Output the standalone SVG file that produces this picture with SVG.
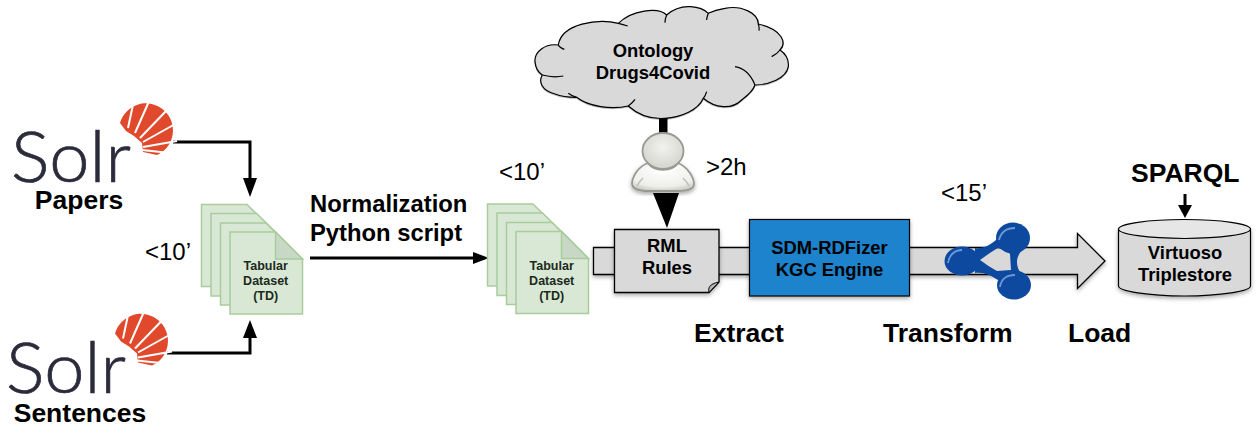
<svg xmlns="http://www.w3.org/2000/svg" xmlns:xlink="http://www.w3.org/1999/xlink" width="1260" height="430" viewBox="0 0 1260 430">
<style>
text{font-family:"Liberation Sans",Arial,sans-serif;fill:#000}
.big{font-size:26.500px;font-weight:700}
.norm{font-size:23.800px;font-weight:700}
.time{font-size:24px}
.doc{font-size:12.500px;font-weight:700;fill:#1c2a1c;text-anchor:middle}
.mid{font-size:18.400px;font-weight:700;text-anchor:middle}
.page{fill:#d9e8d5;stroke:#a9cc9c;stroke-width:1.500}
.fold{fill:#c9d8c6;stroke:#a9cc9c;stroke-width:1.500}
.conn{fill:none;stroke:#000;stroke-width:3}
.solr{font-family:Lato,"Liberation Sans",sans-serif;font-weight:300;font-size:70px;fill:#2b2b3b;stroke:#2b2b3b;stroke-width:0.700}
.ray{stroke:#fff;stroke-width:2}
.node{fill:#0d4a9f}
.hl{fill:none;stroke:#6f9ad8;stroke-width:1.800}
</style>
<defs>
<filter id="sh" x="-10%" y="-10%" width="125%" height="125%"><feDropShadow dx="0" dy="2" stdDeviation="2" flood-color="#000" flood-opacity="0.35"/></filter>
<radialGradient id="body" cx="50%" cy="25%" r="80%"><stop offset="0" stop-color="#ffffff"/><stop offset="0.75" stop-color="#eeeeea"/><stop offset="1" stop-color="#c4c4be"/></radialGradient>
<radialGradient id="head" cx="50%" cy="40%" r="70%"><stop offset="0" stop-color="#f2f2ee"/><stop offset="1" stop-color="#cfcfca"/></radialGradient>
<g id="sun">
<path fill="#e0492b" d="M120 123A27 27 0 1 1 157 155L143 152L142 143L134 136L126 131Z"/>
<g class="ray">
<line x1="128" y1="128" x2="134" y2="100"/>
<line x1="135" y1="133" x2="150" y2="99"/>
<line x1="140" y1="138" x2="167" y2="110"/>
<line x1="143" y1="142" x2="177" y2="123"/>
<line x1="143" y1="147" x2="177" y2="141"/>
<line x1="142" y1="150" x2="170" y2="153"/>
</g>
</g>
<g id="stack">
<path class="page" d="M201.500 204.500H247L274 231V286.500H201.500Z"/>
<path class="page" d="M211 213.500H256.500L283.500 240V296H211Z"/>
<path class="page" d="M220.500 223H266L293 250V305H220.500Z"/>
<path class="page" d="M230 232H275.500L302.500 259V314H230Z"/>
<path class="fold" d="M275.500 232V259H302.500Z"/>
<text class="doc" x="265.700" y="270">Tabular</text>
<text class="doc" x="265.700" y="285">Dataset</text>
<text class="doc" x="265.700" y="300">(TD)</text>
</g>
</defs>

<g id="etl-arrow">
<path fill="#d9d9d9" stroke="#000" stroke-width="1.300" filter="url(#sh)" d="M593.500 247.500H1077.500V233.500L1105 261L1077.500 288.500V274.500H593.500Z"/>
</g>

<g id="connectors">
<path class="conn" d="M173 142H250V180"/>
<path d="M243 178H257L250 197Z"/>
<path class="conn" d="M167 353H250V336"/>
<path d="M243 338H257L250 320Z"/>
<path class="conn" d="M310 258H476"/>
<path d="M473 252L489 258L473 264Z"/>
<path d="M659 117H667.500V136H659Z"/>
<path d="M653 193H679L667 228Z"/>
<path class="conn" d="M1185 194V206" stroke-width="2.500"/>
<path d="M1178 205H1192L1185 218Z"/>
</g>

<g id="solr-papers">
<use href="#sun" xlink:href="#sun"/>
<text class="solr" x="11" y="182" textLength="120" lengthAdjust="spacingAndGlyphs">Solr</text>
<text class="big" x="79" y="209" text-anchor="middle">Papers</text>
</g>
<g id="solr-sentences">
<use href="#sun" xlink:href="#sun" transform="translate(-5 210.500)"/>
<text class="solr" x="6" y="393" textLength="120" lengthAdjust="spacingAndGlyphs">Solr</text>
<text class="big" x="80" y="422" text-anchor="middle">Sentences</text>
</g>
<g id="dataset-raw"><use href="#stack" xlink:href="#stack"/></g>
<g id="dataset-normalized"><use href="#stack" xlink:href="#stack" transform="translate(286 -0.500)"/></g>

<g id="normalization-label">
<text class="norm" x="310" y="212">Normalization</text>
<text class="norm" x="310" y="241">Python script</text>
</g>

<g id="ontology">
<g transform="translate(525 0) scale(0.3333)" filter="url(#sh)">
<path fill="#d9d9d9" stroke="#000" stroke-width="3.600" d="M100 135C60 130 28 155 30 185C32 205 40 218 52 225C40 245 50 272 90 282C110 290 135 292 155 292C190 320 260 330 310 318C340 345 380 358 420 355C470 352 520 330 535 295C570 325 620 330 650 300C670 285 685 270 690 255C730 255 785 235 790 200C792 178 780 160 765 150C785 130 775 90 700 72C700 40 650 15 600 25C580 28 560 35 550 40C530 20 470 5 425 45C400 20 320 30 280 70C220 55 110 70 100 135Z"/>
<path fill="none" stroke="#000" stroke-width="3.600" d="M100 135C102 140 110 145 118 148M52 225C70 230 95 232 115 228M155 292C145 290 135 284 130 280M310 318C318 312 325 305 330 298M535 295C540 290 542 285 545 275M690 255C680 230 660 205 630 200M765 150C758 160 750 165 740 170M700 72C702 78 703 85 702 92M550 40C547 48 545 55 545 60M425 45C422 52 420 60 420 68M280 70C290 72 300 75 308 78"/>
</g>
<text class="mid" x="653" y="57">Ontology</text>
<text class="mid" x="653" y="79">Drugs4Covid</text>
</g>

<g id="user">
<path fill="url(#body)" stroke="#999994" stroke-width="1.800" filter="url(#sh)" d="M648 163C637 167 632 178 632 184C633 190 640 191 648 191H678C686 191 694 190 694 184C694 178 688 167 678 163C672 172 654 172 648 163Z"/>
<path fill="none" stroke="#c0c0ba" stroke-width="1.500" d="M637 186C639 182 641 180 643 178M689 186C687 182 685 180 683 178"/>
<ellipse cx="663" cy="151" rx="20.500" ry="18" fill="url(#head)" stroke="#999994" stroke-width="1.800"/>
</g>
<g id="user-time"><text class="time" x="706" y="175">&gt;2h</text></g>
<g id="time-1"><text class="time" x="145" y="260">&lt;10’</text></g>
<g id="time-2"><text class="time" x="499" y="180">&lt;10’</text></g>
<g id="time-3"><text class="time" x="941" y="201">&lt;15’</text></g>

<g id="rml-rules">
<path fill="#d9d9d9" stroke="#000" stroke-width="1.300" filter="url(#sh)" d="M614.500 229.500H719V282L709 292.500H614.500Z"/>
<path fill="#b5b5b5" stroke="#000" stroke-width="1" d="M709 292.500C708 288 709 284 719 282L709 292.500Z"/>
<text class="mid" x="667" y="252">RML</text>
<text class="mid" x="667" y="274">Rules</text>
</g>

<g id="sdm-rdfizer">
<rect x="749.500" y="219.500" width="160" height="76.500" fill="#1f83cc" stroke="#000" stroke-width="1.200" filter="url(#sh)"/>
<text class="mid" x="829.500" y="254">SDM-RDFizer</text>
<text class="mid" x="829.500" y="276">KGC Engine</text>
</g>

<g id="kg-icon">
<path class="node" fill-rule="evenodd" d="M975 248C982 249 990 246 998 238L1026 246C1020 252 1017 256 1017 262C1017 268 1020 274 1026 278L998 280C990 275 984 272 975 273ZM980 260C986 256 992 251 998 248C1003 250 1009 252 1010 254L1011 270C1006 270 1001 271 997 271C991 268 986 264 980 260Z"/>
<ellipse class="node" cx="1013" cy="238" rx="17" ry="15.500"/>
<ellipse class="node" cx="962" cy="261" rx="17.500" ry="14.500"/>
<ellipse class="node" cx="1014" cy="285" rx="17" ry="14.500"/>
<path class="hl" d="M999 240C1001 232 1007 228 1015 228"/>
<path class="hl" d="M948 263C949 255 955 250 962 250"/>
<path class="hl" d="M1000 287C1001 279 1007 275 1015 275"/>
</g>

<g id="labels">
<text class="big" x="694" y="342">Extract</text>
<text class="big" x="883" y="342">Transform</text>
<text class="big" x="1068" y="342">Load</text>
</g>

<g id="sparql"><text class="big" x="1131" y="182">SPARQL</text></g>

<g id="virtuoso">
<path fill="#d9d9d9" stroke="#000" stroke-width="1.200" filter="url(#sh)" d="M1118.500 229V286C1118.500 291 1148 296 1184.500 296C1221 296 1250.500 291 1250.500 286V229Z"/>
<ellipse cx="1184.500" cy="229" rx="66" ry="9.500" fill="#e6e6e6" stroke="#000" stroke-width="1.200"/>
<text class="mid" x="1185" y="259">Virtuoso</text>
<text class="mid" x="1185" y="281">Triplestore</text>
</g>
</svg>
